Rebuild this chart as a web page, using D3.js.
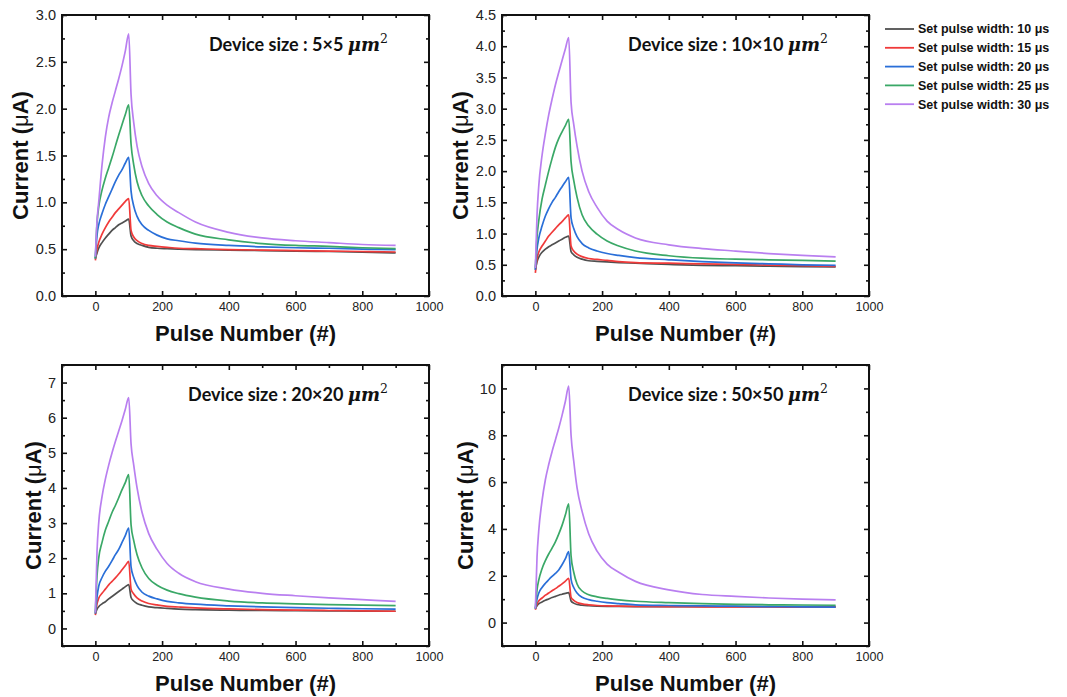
<!DOCTYPE html>
<html><head><meta charset="utf-8">
<script src="https://cdn.jsdelivr.net/npm/d3@7"></script>
<style>
body{margin:0;background:#fff;}
svg{display:block;}
</style></head>
<body>
<svg id="chart" width="1067" height="697"></svg>
<script>
// Pulse numbers (shared x values)
const pulses = [0,5,10,20,30,40,50,60,70,80,90,100,107,115,125,140,160,185,215,250,300,400,500,600,700,800,900];
const seriesNames = ["Set pulse width: 10 μs","Set pulse width: 15 μs","Set pulse width: 20 μs","Set pulse width: 25 μs","Set pulse width: 30 μs"];
const seriesColors = ["#505050","#f03a3a","#2a6fd8","#3aa867","#b97ff0"];
const deviceSizes = ["5×5","10×10","20×20","50×50"];
const xTicks = [0,200,400,600,800,1000];

// Device 5x5 µm²
const i5_10 = [0.40,0.46,0.51,0.57,0.62,0.66,0.70,0.73,0.76,0.78,0.80,0.82, 0.64,0.59,0.56,0.54,0.52,0.51,0.505,0.50,0.495,0.49,0.485,0.48,0.475,0.468,0.46];
const i5_15 = [0.38,0.50,0.57,0.66,0.73,0.79,0.84,0.89,0.93,0.97,1.01,1.04, 0.70,0.63,0.59,0.56,0.54,0.53,0.52,0.51,0.505,0.495,0.49,0.485,0.48,0.475,0.47];
const i5_20 = [0.40,0.65,0.76,0.88,0.98,1.06,1.14,1.22,1.29,1.35,1.42,1.48, 1.12,0.96,0.85,0.76,0.70,0.65,0.61,0.59,0.565,0.54,0.525,0.515,0.51,0.50,0.495];
const i5_25 = [0.40,0.78,0.95,1.13,1.26,1.37,1.48,1.60,1.72,1.83,1.94,2.04, 1.62,1.40,1.22,1.07,0.96,0.87,0.79,0.73,0.66,0.60,0.56,0.54,0.53,0.515,0.505];
const i5_30 = [0.42,0.80,1.00,1.40,1.70,1.91,2.06,2.19,2.32,2.46,2.62,2.80, 2.15,1.85,1.60,1.38,1.20,1.07,0.97,0.89,0.79,0.68,0.62,0.59,0.57,0.55,0.54];
const yTicks5 = [0.0,0.5,1.0,1.5,2.0,2.5,3.0];

// Device 10x10 µm²
const i10_10 = [0.42,0.55,0.62,0.70,0.75,0.79,0.82,0.85,0.88,0.91,0.94,0.96, 0.71,0.66,0.62,0.59,0.565,0.555,0.545,0.535,0.525,0.505,0.49,0.485,0.478,0.47,0.465];
const i10_15 = [0.37,0.60,0.70,0.80,0.88,0.96,1.02,1.08,1.14,1.19,1.25,1.30, 0.80,0.72,0.67,0.63,0.60,0.585,0.57,0.55,0.535,0.525,0.515,0.505,0.495,0.485,0.475];
const i10_20 = [0.42,0.75,0.92,1.12,1.28,1.40,1.50,1.58,1.67,1.75,1.83,1.90, 1.25,1.08,0.95,0.84,0.77,0.72,0.68,0.65,0.615,0.58,0.55,0.53,0.515,0.50,0.49];
const i10_25 = [0.45,0.95,1.20,1.55,1.78,2.00,2.20,2.38,2.52,2.63,2.73,2.83, 2.15,1.85,1.58,1.30,1.12,0.99,0.88,0.80,0.72,0.645,0.605,0.59,0.58,0.57,0.56];
const i10_30 = [0.45,1.30,1.75,2.25,2.60,2.90,3.15,3.38,3.58,3.77,3.96,4.14, 3.10,2.75,2.40,2.00,1.67,1.42,1.20,1.06,0.93,0.82,0.76,0.72,0.68,0.65,0.625];
const yTicks10 = [0.0,0.5,1.0,1.5,2.0,2.5,3.0,3.5,4.0,4.5];

// Device 20x20 µm²
const i20_10 = [0.42,0.55,0.62,0.70,0.76,0.84,0.91,0.98,1.05,1.12,1.19,1.25, 0.88,0.78,0.71,0.66,0.615,0.59,0.57,0.55,0.535,0.52,0.51,0.505,0.50,0.495,0.49];
const i20_15 = [0.38,0.70,0.86,1.00,1.12,1.24,1.34,1.44,1.55,1.67,1.79,1.91, 1.12,0.98,0.87,0.78,0.71,0.67,0.63,0.61,0.585,0.555,0.535,0.52,0.51,0.50,0.49];
const i20_20 = [0.42,0.90,1.20,1.45,1.63,1.77,1.93,2.10,2.25,2.45,2.65,2.86, 1.75,1.45,1.22,1.03,0.92,0.84,0.77,0.73,0.69,0.645,0.615,0.595,0.575,0.56,0.55];
const i20_25 = [0.45,1.50,2.00,2.45,2.80,3.05,3.30,3.50,3.72,3.95,4.16,4.38, 2.95,2.50,2.10,1.72,1.42,1.23,1.09,0.99,0.89,0.78,0.725,0.70,0.68,0.665,0.65];
const i20_30 = [0.45,2.20,3.00,3.75,4.25,4.65,5.00,5.32,5.62,5.92,6.25,6.57, 5.25,4.65,4.00,3.30,2.70,2.25,1.85,1.57,1.33,1.12,1.00,0.93,0.87,0.82,0.77];
const yTicks20 = [0,1,2,3,4,5,6,7];

// Device 50x50 µm²
const i50_10 = [0.60,0.72,0.80,0.88,0.95,1.01,1.07,1.12,1.17,1.21,1.25,1.28, 0.92,0.83,0.77,0.74,0.72,0.705,0.695,0.69,0.685,0.68,0.68,0.68,0.68,0.68,0.68];
const i50_15 = [0.55,0.80,0.92,1.05,1.17,1.26,1.36,1.45,1.55,1.65,1.77,1.89, 1.08,0.95,0.86,0.80,0.76,0.73,0.71,0.70,0.69,0.68,0.675,0.67,0.665,0.66,0.66];
const i50_20 = [0.60,1.00,1.25,1.50,1.68,1.83,1.97,2.10,2.25,2.47,2.73,3.03, 1.85,1.50,1.26,1.08,0.98,0.91,0.85,0.81,0.76,0.73,0.71,0.70,0.68,0.67,0.66];
const i50_25 = [0.60,1.40,1.80,2.30,2.65,2.93,3.18,3.45,3.78,4.15,4.60,5.07, 2.85,2.15,1.65,1.35,1.19,1.10,1.03,0.97,0.91,0.85,0.81,0.78,0.76,0.75,0.74];
const i50_30 = [0.60,2.80,3.90,5.20,6.10,6.75,7.30,7.80,8.30,8.85,9.45,10.1, 8.00,6.90,5.75,4.75,3.78,3.05,2.50,2.15,1.76,1.40,1.20,1.12,1.05,1.00,0.97];
const yTicks50 = [0,2,4,6,8,10];

const panels = [
  {title: deviceSizes[0], series:[i5_10,i5_15,i5_20,i5_25,i5_30], yDom:[0,3], yTicks:yTicks5, yMinor:0.25, fmt:d3.format(".1f"), left:62, top:15, titleX:28},
  {title: deviceSizes[1], series:[i10_10,i10_15,i10_20,i10_25,i10_30], yDom:[0,4.5], yTicks:yTicks10, yMinor:0.25, fmt:d3.format(".1f"), left:502, top:15, titleX:468},
  {title: deviceSizes[2], series:[i20_10,i20_15,i20_20,i20_25,i20_30], yDom:[-0.5,7.5], yTicks:yTicks20, yMinor:0.5, fmt:d3.format("d"), left:62, top:365, titleX:41},
  {title: deviceSizes[3], series:[i50_10,i50_15,i50_20,i50_25,i50_30], yDom:[-1,11], yTicks:yTicks50, yMinor:1, fmt:d3.format("d"), left:502, top:365, titleX:473}
];

const W = 367, H = 281;
const svg = d3.select("#chart");
const tickFont = "'Liberation Sans', Arial, sans-serif";

panels.forEach(p => {
  const g = svg.append("g").attr("transform", `translate(${p.left},${p.top})`);
  const x = d3.scaleLinear().domain([-100,1000]).range([0,W]);
  const y = d3.scaleLinear().domain(p.yDom).range([H,0]);

  const xMinor = d3.range(-100, 1001, 100).filter(v => v % 200 !== 0);
  const yMinorVals = d3.range(p.yDom[0], p.yDom[1] + 1e-9, p.yMinor).filter(v => !p.yTicks.some(t => Math.abs(t - v) < 1e-9));

  // lines
  const line = d3.line().x((d,i) => x(pulses[i])).y(d => y(d)).curve(d3.curveMonotoneX);
  p.series.forEach((s, k) => {
    g.append("path").datum(s).attr("d", line)
      .attr("fill","none").attr("stroke", seriesColors[k]).attr("stroke-width",1.7)
      .attr("stroke-linejoin","round");
  });

  // axes - major
  const axB = g.append("g").attr("transform",`translate(0,${H})`)
    .call(d3.axisBottom(x).tickValues(xTicks).tickSize(-5).tickPadding(6).tickFormat(d3.format("d")));
  g.append("g").call(d3.axisTop(x).tickValues(xTicks).tickSize(-5).tickFormat(""));
  const axL = g.append("g").call(d3.axisLeft(y).tickValues(p.yTicks).tickSize(-5).tickPadding(6).tickFormat(p.fmt));
  g.append("g").attr("transform",`translate(${W},0)`).call(d3.axisRight(y).tickValues(p.yTicks).tickSize(-5).tickFormat(""));
  // minor
  g.append("g").attr("transform",`translate(0,${H})`).call(d3.axisBottom(x).tickValues(xMinor).tickSize(-3).tickFormat(""));
  g.append("g").call(d3.axisTop(x).tickValues(xMinor).tickSize(-3).tickFormat(""));
  g.append("g").call(d3.axisLeft(y).tickValues(yMinorVals).tickSize(-3).tickFormat(""));
  g.append("g").attr("transform",`translate(${W},0)`).call(d3.axisRight(y).tickValues(yMinorVals).tickSize(-3).tickFormat(""));

  g.selectAll(".domain").remove();
  g.selectAll(".tick line").attr("stroke","#111").attr("stroke-width",1.6);
  axB.selectAll("text").attr("font-size",12.5).attr("font-family",tickFont).attr("fill","#222");
  axL.selectAll("text").attr("font-size",14.5).attr("font-family",tickFont).attr("fill","#222");

  // frame
  g.append("rect").attr("x",0).attr("y",0).attr("width",W).attr("height",H)
    .attr("fill","none").attr("stroke","#111").attr("stroke-width",2);

  // axis titles
  svg.append("text").attr("x", p.left + W/2).attr("y", p.top + 326)
    .attr("text-anchor","middle").attr("font-family","'Liberation Sans', Arial, sans-serif")
    .attr("font-weight","bold").attr("font-size",22).attr("fill","#111")
    .text("Pulse Number (#)");
  const yt = svg.append("text")
    .attr("transform",`translate(${p.titleX},${p.top + H/2}) rotate(-90)`)
    .attr("text-anchor","middle").attr("font-family","'Liberation Sans', Arial, sans-serif")
    .attr("font-weight","bold").attr("font-size",22).attr("fill","#111");
  yt.append("tspan").text("Current (");
  yt.append("tspan").attr("font-weight","normal").text("μ");
  yt.append("tspan").text("A)");

  // panel title
  const tt = svg.append("text").attr("x", p.left + 326).attr("y", p.top + 36)
    .attr("text-anchor","end").attr("fill","#111");
  tt.append("tspan").attr("font-family","Lato, 'Open Sans', sans-serif").attr("font-weight","bold").attr("font-size",18)
    .text(`Device size : ${p.title} `);
  tt.append("tspan").attr("font-family","'DejaVu Serif', 'Liberation Serif', serif").attr("font-style","italic").attr("font-weight","bold").attr("font-size",18)
    .text("μm");
  tt.append("tspan").attr("font-family","'DejaVu Serif', 'Liberation Serif', serif").attr("font-size",12.5).attr("dy",-8)
    .text("2");
});

// legend
const lg = svg.append("g");
seriesNames.forEach((n, k) => {
  const yy = 29 + k * 18.8;
  lg.append("line").attr("x1",885).attr("x2",914).attr("y1",yy).attr("y2",yy)
    .attr("stroke",seriesColors[k]).attr("stroke-width",1.8);
  lg.append("text").attr("x",918).attr("y",yy).attr("dy","0.35em")
    .attr("font-family","'Liberation Sans', Arial, sans-serif").attr("font-weight","bold")
    .attr("font-size",12.5).attr("fill","#111").text(n);
});
</script>
</body></html>
